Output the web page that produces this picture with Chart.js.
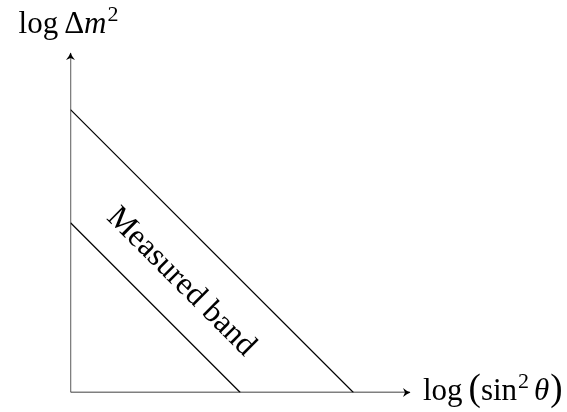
<!DOCTYPE html>
<html>
<head>
<meta charset="utf-8">
<script src="https://cdn.jsdelivr.net/npm/chart.js@4"></script>
<style>
  html, body { margin: 0; padding: 0; background: #fff; }
  #c { display: block; }
</style>
</head>
<body>
<canvas id="c" width="567" height="412"></canvas>
<script>
// axis extents (in TikZ units)
const axisMax = 6;
const xAxisX = [0, 6];
const xAxisY = [0, 0];
const yAxisX = [0, 0];
const yAxisY = [0, 6];

// the two band edges
const upperX = [0, 5];
const upperY = [5, 0];
const lowerX = [0, 3];
const lowerY = [3, 0];

// band label position
const bandLabel = 'Measured band';
const bandLabelAt = [2, 2];

const FAM = '"Liberation Serif"';
const FS = 31;

const pts = (xs, ys) => xs.map((x, i) => ({x: x, y: ys[i]}));

const lineSet = (xs, ys, width) => ({
  data: pts(xs, ys),
  showLine: true,
  borderColor: '#000',
  borderWidth: width,
  pointRadius: 0,
  fill: false
});

// draws a list of text pieces one after another
function drawRuns(ctx, runs, x, y) {
  let cx = x;
  runs.forEach(r => {
    ctx.font = r.font;
    ctx.fillText(r.t, cx, y + (r.dy || 0));
    cx += ctx.measureText(r.t).width + (r.gap || 0);
  });
}

function runsWidth(ctx, runs) {
  let w = 0;
  runs.forEach(r => {
    ctx.font = r.font;
    w += ctx.measureText(r.t).width + (r.gap || 0);
  });
  return w;
}

function arrowHead(ctx, x, y, angle) {
  ctx.save();
  ctx.translate(x, y);
  ctx.rotate(angle);
  ctx.beginPath();
  ctx.moveTo(0.5, 0);
  ctx.quadraticCurveTo(-3, -1, -7, -4.5);
  ctx.lineTo(-5, 0);
  ctx.lineTo(-7, 4.5);
  ctx.quadraticCurveTo(-3, 1, 0.5, 0);
  ctx.closePath();
  ctx.fillStyle = '#000';
  ctx.fill();
  ctx.restore();
}

const decor = {
  id: 'decor',
  afterDatasetsDraw(chart) {
    const ctx = chart.ctx;
    const xs = chart.scales.x, ys = chart.scales.y;
    const ox = xs.getPixelForValue(0), oy = ys.getPixelForValue(0);
    const tx = xs.getPixelForValue(axisMax), ty = ys.getPixelForValue(axisMax);

    arrowHead(ctx, tx, oy, 0);
    arrowHead(ctx, ox, ty, -Math.PI / 2);

    ctx.save();
    ctx.fillStyle = '#000';

    const up = FS + 'px ' + FAM;
    const it = 'italic ' + FS + 'px ' + FAM;
    const sup = '22px ' + FAM;

    // y axis label
    const yRuns = [
      {t: 'log', font: up, gap: 6},
      {t: '\u0394', font: up},
      {t: 'm', font: it, gap: 1},
      {t: '2', font: sup, dy: -12}
    ];
    drawRuns(ctx, yRuns, ox - 2 - runsWidth(ctx, yRuns) / 2, ty - 20);

    // x axis label
    const big = '37px ' + FAM;
    const xRuns = [
      {t: 'log', font: up, gap: 6},
      {t: '(', font: big},
      {t: 'sin', font: up, gap: 1},
      {t: '2', font: sup, dy: -12, gap: 5},
      {t: '\u03b8', font: it, gap: 1},
      {t: ')', font: big}
    ];
    drawRuns(ctx, xRuns, tx + 13, oy + 7.5);

    // band label, along the band
    ctx.translate(xs.getPixelForValue(bandLabelAt[0]), ys.getPixelForValue(bandLabelAt[1]));
    ctx.rotate(Math.PI / 4);
    ctx.font = '32px ' + FAM;
    ctx.textAlign = 'center';
    ctx.fillText(bandLabel, 0, 12);
    ctx.restore();
  }
};

new Chart(document.getElementById('c'), {
  type: 'scatter',
  data: {
    datasets: [
      lineSet(xAxisX, xAxisY, 1.3),
      lineSet(yAxisX, yAxisY, 1.3),
      lineSet(upperX, upperY, 1.2),
      lineSet(lowerX, lowerY, 1.2)
    ]
  },
  options: {
    responsive: false,
    animation: false,
    layout: {
      padding: {left: 70.5, right: 157, top: 53, bottom: 19.5}
    },
    scales: {
      x: {type: 'linear', min: 0, max: axisMax, display: false},
      y: {type: 'linear', min: 0, max: axisMax, display: false}
    },
    plugins: {
      legend: {display: false},
      tooltip: {enabled: false}
    }
  },
  plugins: [decor]
});
</script>
</body>
</html>
